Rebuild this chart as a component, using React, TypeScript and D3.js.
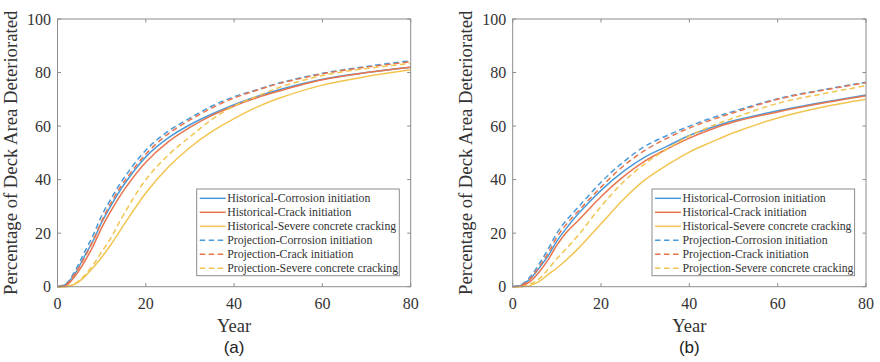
import React from 'react';
import * as d3 from 'd3';

// sampled years shared by every curve
const years = [0, 2, 4, 6, 8, 10, 12, 15, 20, 25, 30, 35, 40, 45, 50, 60, 70, 80];

// panel (a)
const aHistCorrosion = [0, 1, 5, 11, 17, 24, 30, 38, 48.5, 55.5, 60.5, 64.5, 68, 71, 73.5, 77.5, 80, 82];
const aHistCrack = [0, 0.5, 4, 9, 15, 22, 28, 36, 46.5, 54, 59.5, 64, 67.5, 70.5, 73, 77.3, 80, 82];
const aHistSevere = [0, 0, 1, 3.5, 7, 11, 15.5, 23, 35, 44.5, 52, 58, 62.8, 67, 70.3, 75.3, 78.5, 81];
const aProjCorrosion = [0, 1.2, 6, 12.5, 19, 26.5, 32.5, 40.5, 51, 58, 63, 67.5, 71, 73.5, 76, 79.7, 82.3, 84.4];
const aProjCrack = [0, 0.8, 5, 10.5, 17, 24.5, 31, 39, 49.5, 57, 62.3, 66.8, 70.5, 73.3, 75.8, 79.5, 82, 84];
const aProjSevere = [0, 0, 1.2, 4, 8, 13, 18, 27, 40, 49, 56, 62.5, 67.5, 71, 74.3, 78.9, 81.5, 83.4];

// panel (b)
const bHistCorrosion = [0, 0.6, 3, 7, 11.5, 17, 21.5, 27.5, 36, 43, 48.5, 52.5, 56.5, 59.5, 62, 65.7, 68.8, 71.6];
const bHistCrack = [0, 0.3, 2, 5.5, 10, 15.5, 20, 25, 33.6, 41, 47, 51.5, 55.5, 58.8, 61.5, 65.3, 68.5, 71.3];
const bHistSevere = [0, 0, 0.5, 2, 4.5, 7, 9.8, 14.5, 23.5, 32.5, 40, 45.5, 50.3, 54, 57.5, 63, 67, 70];
const bProjCorrosion = [0, 0.8, 3.8, 8.5, 14, 20, 24.5, 30, 39, 46.5, 52.5, 56.5, 60, 63, 65.5, 70.2, 73.5, 76.4];
const bProjCrack = [0, 0.5, 3, 7.5, 12.5, 18.5, 23, 28.5, 37.2, 45, 51, 55.5, 59.3, 62.3, 65, 70, 73.3, 76.2];
const bProjSevere = [0, 0, 1, 3, 6.5, 10.5, 14, 19.5, 30, 39, 46, 51.5, 56.3, 60, 63, 68.5, 72, 75.1];

const seriesNames = [
  'Historical-Corrosion initiation',
  'Historical-Crack initiation',
  'Historical-Severe concrete cracking',
  'Projection-Corrosion initiation',
  'Projection-Crack initiation',
  'Projection-Severe concrete cracking',
];
const xTicks = [0, 20, 40, 60, 80];
const yTicks = [0, 20, 40, 60, 80, 100];

const colors = ['#4a9bd9', '#e8744d', '#f2c451', '#4a9bd9', '#e8744d', '#f2c451'];
const dashed = [false, false, false, true, true, true];

const serif = '"Liberation Serif", "Times New Roman", serif';

type PanelProps = { left: number; right: number; series: number[][]; label: string };

const Panel = ({ left, right, series, label }: PanelProps) => {
  const top = 19;
  const bottom = 286.7;
  const x = d3.scaleLinear().domain([0, 80]).range([left, right]);
  const y = d3.scaleLinear().domain([0, 100]).range([bottom, top]);
  const line = d3
    .line<number>()
    .x((d, i) => x(years[i]))
    .y((d) => y(d))
    .curve(d3.curveCatmullRom);

  const tick = 3.5;
  const legX = right - 214;
  const legY = 189;
  const legW = 202.6;
  const legH = 86.7;
  const cx = (left + right) / 2;

  return (
    <g>
      <rect x={left} y={top} width={right - left} height={bottom - top} fill="white" />
      {series.map((s, k) => (
        <path
          key={k}
          d={line(s) || ''}
          fill="none"
          stroke={colors[k]}
          strokeWidth={1.5}
          strokeDasharray={dashed[k] ? '5.5,3.5' : undefined}
        />
      ))}
      {/* box and inward ticks */}
      <rect x={left} y={top} width={right - left} height={bottom - top} fill="none" stroke="#8c8c8c" strokeWidth={1} />
      {xTicks.map((t) => (
        <g key={'x' + t}>
          <line x1={x(t)} x2={x(t)} y1={bottom} y2={bottom - tick} stroke="#8c8c8c" />
          <line x1={x(t)} x2={x(t)} y1={top} y2={top + tick} stroke="#8c8c8c" />
          <text x={x(t)} y={308.5} textAnchor="middle" fontFamily={serif} fontSize={16} fill="#333">
            {t}
          </text>
        </g>
      ))}
      {yTicks.map((t) => (
        <g key={'y' + t}>
          <line x1={left} x2={left + tick} y1={y(t)} y2={y(t)} stroke="#8c8c8c" />
          <line x1={right} x2={right - tick} y1={y(t)} y2={y(t)} stroke="#8c8c8c" />
          <text x={left - 6.5} y={y(t) + 5.5} textAnchor="end" fontFamily={serif} fontSize={16} fill="#333">
            {t}
          </text>
        </g>
      ))}
      <text x={cx} y={332} textAnchor="middle" fontFamily={serif} fontSize={18.5} fill="#333">
        Year
      </text>
      <text
        transform={`translate(${left - 40.5},${(top + bottom) / 2}) rotate(-90)`}
        textAnchor="middle"
        fontFamily={serif}
        fontSize={18.7}
        fill="#333"
      >
        Percentage of Deck Area Deteriorated
      </text>
      <text x={cx} y={353} textAnchor="middle" fontFamily='"Liberation Sans", Arial, sans-serif' fontSize={17} fill="#222">
        {label}
      </text>
      {/* legend */}
      <rect x={legX} y={legY} width={legW} height={legH} fill="white" stroke="#8c8c8c" strokeWidth={1} />
      {seriesNames.map((n, k) => {
        const ly = legY + 9.3 + k * 14;
        return (
          <g key={n}>
            <line
              x1={legX + 3}
              x2={legX + 29}
              y1={ly}
              y2={ly}
              stroke={colors[k]}
              strokeWidth={1.5}
              strokeDasharray={dashed[k] ? '5.5,3.5' : undefined}
            />
            <text x={legX + 30.5} y={ly + 4} fontFamily={serif} fontSize={11.8} fill="#333">
              {n}
            </text>
          </g>
        );
      })}
    </g>
  );
};

export default function App() {
  const a = [aHistCorrosion, aHistCrack, aHistSevere, aProjCorrosion, aProjCrack, aProjSevere];
  const b = [bHistCorrosion, bHistCrack, bHistSevere, bProjCorrosion, bProjCrack, bProjSevere];
  return (
    <svg width={880} height={362} style={{ position: 'absolute', left: 0, top: 0, background: 'white' }}>
      <rect width={880} height={362} fill="white" />
      <Panel left={57.5} right={410.7} series={a} label="(a)" />
      <Panel left={512.7} right={866} series={b} label="(b)" />
    </svg>
  );
}
